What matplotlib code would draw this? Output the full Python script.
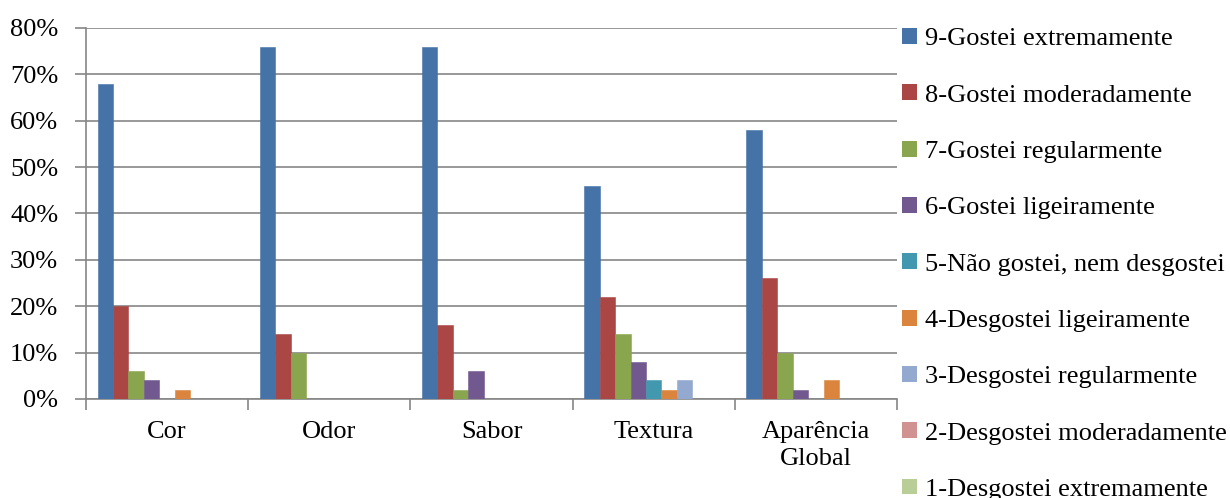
import matplotlib

matplotlib.use("Agg")
import matplotlib.pyplot as plt
import numpy as np
from matplotlib.patches import Patch
from matplotlib.ticker import PercentFormatter

plt.rcParams["font.family"] = ["Liberation Serif", "DejaVu Serif"]

categorias = ["Cor", "Odor", "Sabor", "Textura", "Aparência\nGlobal"]
series = [
    "9-Gostei extremamente",
    "8-Gostei moderadamente",
    "7-Gostei regularmente",
    "6-Gostei ligeiramente",
    "5-Não gostei, nem desgostei",
    "4-Desgostei ligeiramente",
    "3-Desgostei regularmente",
    "2-Desgostei moderadamente",
    "1-Desgostei extremamente",
]
# valeurs en % par série (ordre des catégories)
s9 = [68, 76, 76, 46, 58]
s8 = [20, 14, 16, 22, 26]
s7 = [6, 10, 2, 14, 10]
s6 = [4, 0, 6, 8, 2]
s5 = [0, 0, 0, 4, 0]
s4 = [2, 0, 0, 2, 4]
s3 = [0, 0, 0, 4, 0]
s2 = [0, 0, 0, 0, 0]
s1 = [0, 0, 0, 0, 0]
valeurs = [s9, s8, s7, s6, s5, s4, s3, s2, s1]

couleurs = ["#4572A7", "#AA4643", "#89A54E", "#71588F", "#4198AF",
            "#DB843D", "#93A9CF", "#D19392", "#B9CD96"]

GRIS = "#868686"
TAILLE = 19

fig = plt.figure(figsize=(12.3, 4.98), dpi=100)
ax = fig.add_axes([0.0699, 0.1988, 0.6594, 0.745])

n = len(series)
largeur = 1 / (n + 1.5)
x = np.arange(len(categorias))
for k, (nom, vals) in enumerate(zip(series, valeurs)):
    pos = x - 0.5 + 0.75 * largeur + (k + 0.5) * largeur
    ax.bar(pos, vals, largeur, color=couleurs[k], edgecolor=couleurs[k],
           linewidth=0.4, label=nom, zorder=3)

ax.set_xlim(-0.5, len(categorias) - 0.5)
ax.set_ylim(0, 80)
ax.set_yticks(range(0, 81, 10))
ax.yaxis.set_major_formatter(PercentFormatter(decimals=0))
ax.yaxis.grid(True, color=GRIS, linewidth=1.2, zorder=0)
ax.set_axisbelow(True)

ax.set_xticks(np.arange(-0.5, len(categorias)), minor=False)
ax.set_xticklabels([])
ax.set_xticks(x, minor=True)
ax.set_xticklabels(categorias, minor=True, fontsize=TAILLE, linespacing=1.3)
ax.tick_params(axis="x", which="minor", length=0, pad=16)
ax.tick_params(axis="x", which="major", length=8, width=1.2, color=GRIS,
               direction="out")
ax.tick_params(axis="y", length=8, width=1.2, color=GRIS, labelsize=TAILLE,
               pad=12)

for cote in ["top", "right"]:
    ax.spines[cote].set_visible(False)
for cote in ["left", "bottom"]:
    ax.spines[cote].set_color(GRIS)
    ax.spines[cote].set_linewidth(1.2)

poignees = [Patch(facecolor=c, edgecolor="none") for c in couleurs]
fig.legend(poignees, series, loc="upper left", bbox_to_anchor=(0.725, 0.965),
           frameon=False, fontsize=TAILLE, handlelength=0.55, handleheight=0.55,
           handletextpad=0.3, labelspacing=1.29, borderaxespad=0)

fig.savefig("out.png", dpi=100, facecolor="white")
